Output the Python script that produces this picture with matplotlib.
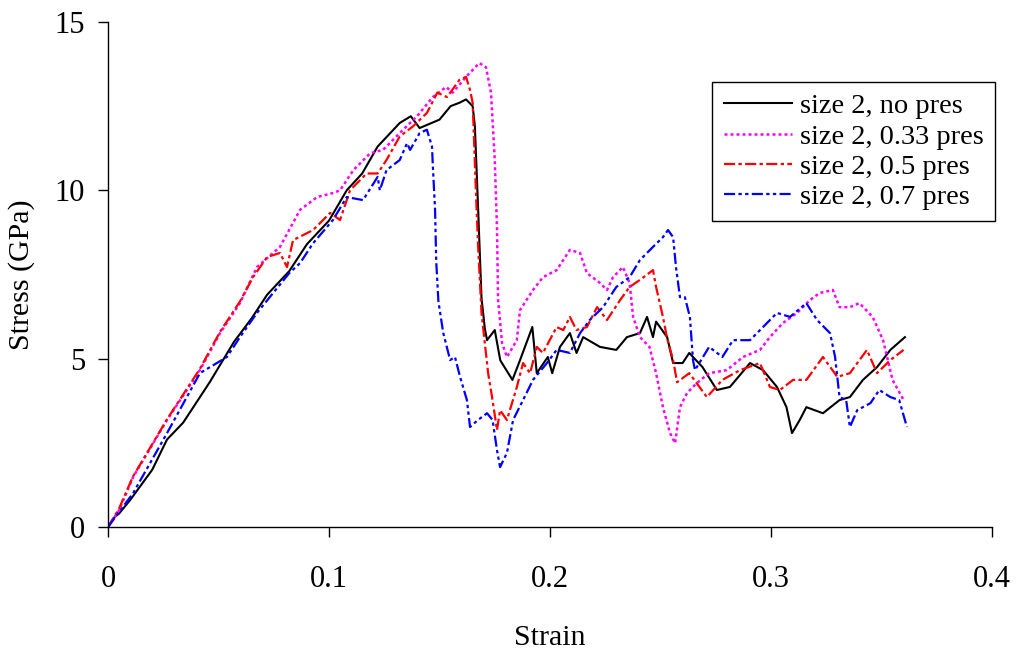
import numpy as np
import matplotlib
matplotlib.use('Agg')
import matplotlib.pyplot as plt

plt.rcParams['font.family'] = ['Liberation Serif', 'DejaVu Serif']

# Data (strain, stress in GPa)
x_nopres = [0, 0.003, 0.005, 0.01, 0.02, 0.0267, 0.034, 0.040, 0.046, 0.057, 0.065, 0.072,
            0.082, 0.09, 0.1, 0.108, 0.115, 0.122, 0.132, 0.137, 0.141, 0.150, 0.155, 0.159,
            0.162, 0.165, 0.166, 0.1675, 0.169, 0.1705, 0.1715, 0.175, 0.1775, 0.183, 0.1864,
            0.192, 0.194, 0.199, 0.201, 0.2045, 0.209, 0.212, 0.215, 0.2226, 0.230, 0.2348,
            0.2407, 0.2439, 0.2466, 0.248, 0.253, 0.2557, 0.260, 0.263, 0.269, 0.2755, 0.2814,
            0.2905, 0.2964, 0.3027, 0.307, 0.3095, 0.313, 0.316, 0.3235, 0.331, 0.3357, 0.3416,
            0.348, 0.354, 0.3606]
y_nopres = [0, 0.3, 0.4, 0.8, 1.7, 2.6, 3.1, 3.7, 4.3, 5.5, 6.2, 6.9,
            7.6, 8.4, 9.1, 10.0, 10.5, 11.3, 12.0, 12.2, 11.85, 12.1, 12.5, 12.6,
            12.7, 12.5, 11.9, 9.4, 6.8, 5.9, 5.55, 5.85, 4.95, 4.37, 4.95,
            5.94, 4.57, 5.05, 4.57, 5.35, 5.76, 5.17, 5.64, 5.35, 5.26, 5.64,
            5.76, 6.24, 5.64, 6.1, 5.64, 4.87, 4.87, 5.17, 4.75, 4.07, 4.16,
            4.87, 4.66, 4.16, 3.56, 2.79, 3.18, 3.56, 3.38, 3.77, 3.86, 4.37,
            4.75, 5.26, 5.64]

x_033 = [0, 0.005, 0.0113, 0.0267, 0.0416, 0.0507, 0.0597, 0.0674, 0.0778, 0.0869, 0.0946,
         0.1018, 0.105, 0.111, 0.1186, 0.1244, 0.132, 0.1398, 0.147, 0.153, 0.156, 0.162,
         0.168, 0.171, 0.1733, 0.175, 0.176, 0.1765, 0.1783, 0.1805, 0.185, 0.1864, 0.1923,
         0.1968, 0.203, 0.209, 0.2136, 0.2167, 0.2226, 0.2258, 0.2285, 0.233, 0.236, 0.2376,
         0.2407, 0.245, 0.248, 0.2511, 0.2543, 0.2566, 0.2588, 0.262, 0.2665, 0.272, 0.280,
         0.2873, 0.295, 0.2995, 0.3054, 0.3118, 0.3176, 0.322, 0.328, 0.331, 0.3357, 0.340,
         0.346, 0.3507, 0.355, 0.360]
y_033 = [0, 0.5, 1.48, 3.18, 4.66, 5.76, 6.65, 7.72, 8.32, 9.42, 9.8,
         9.92, 10.0, 10.6, 11.1, 11.2, 11.7, 12.2, 12.77, 13.07, 12.9, 13.37,
         13.78, 13.66, 12.9, 10.9, 8.9, 6.74, 5.46, 5.05, 5.55, 6.44, 7.04,
         7.42, 7.63, 8.23, 8.14, 7.54, 7.25, 7.04, 7.42, 7.72, 7.25, 6.24,
         5.64, 5.35, 4.57, 3.56, 2.79, 2.49, 3.56, 3.98, 4.28, 4.57, 4.66,
         5.05, 5.26, 5.64, 6.06, 6.36, 6.74, 6.95, 7.04, 6.53, 6.53, 6.65,
         6.24, 5.55, 4.37, 3.77]

x_05 = [0, 0.005, 0.0113, 0.0267, 0.0416, 0.0507, 0.0597, 0.0656, 0.072, 0.0778, 0.081,
        0.0837, 0.0928, 0.1005, 0.105, 0.1095, 0.117, 0.122, 0.126, 0.132, 0.138, 0.1443,
        0.149, 0.1534, 0.159, 0.162, 0.1638, 0.165, 0.1665, 0.1674, 0.169, 0.1697, 0.172,
        0.174, 0.176, 0.1774, 0.1805, 0.185, 0.1878, 0.191, 0.194, 0.1968, 0.203, 0.206,
        0.209, 0.212, 0.2167, 0.2213, 0.2258, 0.2317, 0.236, 0.2407, 0.2466, 0.248, 0.2511,
        0.253, 0.2557, 0.2575, 0.263, 0.271, 0.278, 0.286, 0.295, 0.2995, 0.304, 0.31,
        0.316, 0.3235, 0.33, 0.3357, 0.3434, 0.348, 0.354, 0.360]
y_05 = [0, 0.55, 1.5, 3.2, 4.7, 5.8, 6.7, 7.42, 8.02, 8.14, 7.72,
        8.52, 8.82, 9.33, 9.12, 10.0, 10.5, 10.5, 10.9, 11.6, 11.9, 12.3,
        12.9, 12.77, 13.28, 13.37, 12.98, 12.6, 9.92, 8.43, 6.36, 5.94, 4.57,
        3.77, 2.88, 3.47, 3.18, 4.16, 4.87, 4.57, 5.35, 5.17, 5.94, 5.85,
        6.24, 5.85, 5.94, 6.53, 6.15, 6.74, 7.13, 7.34, 7.63, 7.13, 6.24,
        5.6, 4.96, 4.3, 4.57, 3.86, 4.37, 4.66, 4.87, 4.16, 4.07, 4.37,
        4.37, 5.05, 4.46, 4.57, 5.26, 4.57, 4.96, 5.26]

x_07 = [0, 0.005, 0.0113, 0.0267, 0.0416, 0.0538, 0.0597, 0.0674, 0.0747, 0.082, 0.0869,
        0.0928, 0.1018, 0.108, 0.1154, 0.122, 0.123, 0.126, 0.132, 0.1353, 0.1367, 0.141,
        0.1443, 0.1466, 0.147, 0.148, 0.1485, 0.1495, 0.1517, 0.1548, 0.157, 0.1593, 0.1624,
        0.1638, 0.1674, 0.1715, 0.174, 0.176, 0.1774, 0.1805, 0.1833, 0.1878, 0.1923, 0.1986,
        0.203, 0.209, 0.2136, 0.218, 0.224, 0.230, 0.236, 0.2407, 0.2466, 0.2511, 0.2534,
        0.2557, 0.257, 0.2588, 0.261, 0.2633, 0.2647, 0.2656, 0.272, 0.278, 0.2828, 0.2905,
        0.2964, 0.3027, 0.3086, 0.316, 0.3208, 0.3267, 0.329, 0.331, 0.334, 0.3357, 0.339,
        0.345, 0.349, 0.354, 0.358, 0.3615]
y_07 = [0, 0.45, 1.0, 2.79, 4.57, 5.05, 5.64, 6.36, 6.95, 7.54, 7.84,
        8.43, 9.12, 9.8, 9.71, 10.4, 10.0, 10.6, 10.9, 11.4, 11.2, 11.7,
        11.8, 11.3, 10.7, 9.4, 7.9, 6.7, 5.76, 4.96, 5.05, 4.46, 3.77,
        2.97, 3.18, 3.38, 3.18, 2.29, 1.78, 2.2, 3.18, 3.77, 4.37, 4.87,
        5.26, 5.17, 5.76, 6.15, 6.53, 7.13, 7.42, 7.93, 8.32, 8.61, 8.82,
        8.61, 7.72, 6.83, 6.83, 6.24, 4.96, 4.66, 5.35, 5.05, 5.55, 5.55,
        5.94, 6.36, 6.24, 6.65, 6.15, 5.76, 5.05, 3.86, 3.77, 2.97, 3.47,
        3.68, 4.07, 3.86, 3.77, 2.97]

labels = ['size 2, no pres', 'size 2, 0.33 pres', 'size 2, 0.5 pres', 'size 2, 0.7 pres']

fig = plt.figure(figsize=(10.21, 6.56), dpi=100)
ax = fig.add_axes([0.1058, 0.1966, 0.8658, 0.7699])

ax.plot(x_nopres, y_nopres, color='black', lw=1.5, ls='-', label=labels[0])
ax.plot(x_033, y_033, color='#FF00FF', lw=1.8, ls=(0, (1.2, 1.2)), label=labels[1])
ax.plot(x_05, y_05, color='#FF0000', lw=1.6, ls=(0, (5, 1.5, 1.5, 1.5)), label=labels[2])
ax.plot(x_07, y_07, color='#0000FF', lw=1.6, ls=(0, (5, 1.5, 1.5, 1.5, 1.5, 1.5)), label=labels[3])

ax.set_xlim(0, 0.4)
ax.set_ylim(0, 15)
ax.set_xticks([0, 0.1, 0.2, 0.3, 0.4])
ax.set_xticklabels(['0', '0.1', '0.2', '0.3', '0.4'])
ax.set_yticks([0, 5, 10, 15])
ax.tick_params(labelsize=22, direction='out', length=7.5, width=1)
ax.tick_params(axis='x', pad=20)
ax.tick_params(axis='y', pad=9)
for s in ['top', 'right']:
    ax.spines[s].set_visible(False)
for s in ['left', 'bottom']:
    ax.spines[s].set_linewidth(1)

ax.set_xlabel('Strain', fontsize=21.5, labelpad=22)
ax.set_ylabel('Stress (GPa)', fontsize=21.5, labelpad=14)

leg = ax.legend(loc='upper right', bbox_to_anchor=(1.0034, 0.881), borderaxespad=0,
                fontsize=20.5, handlelength=2.4, handletextpad=0.28, labelspacing=0.15,
                borderpad=0.4, fancybox=False, framealpha=1, edgecolor='black')
leg.get_frame().set_linewidth(1)

plt.savefig('out.png', dpi=100)
